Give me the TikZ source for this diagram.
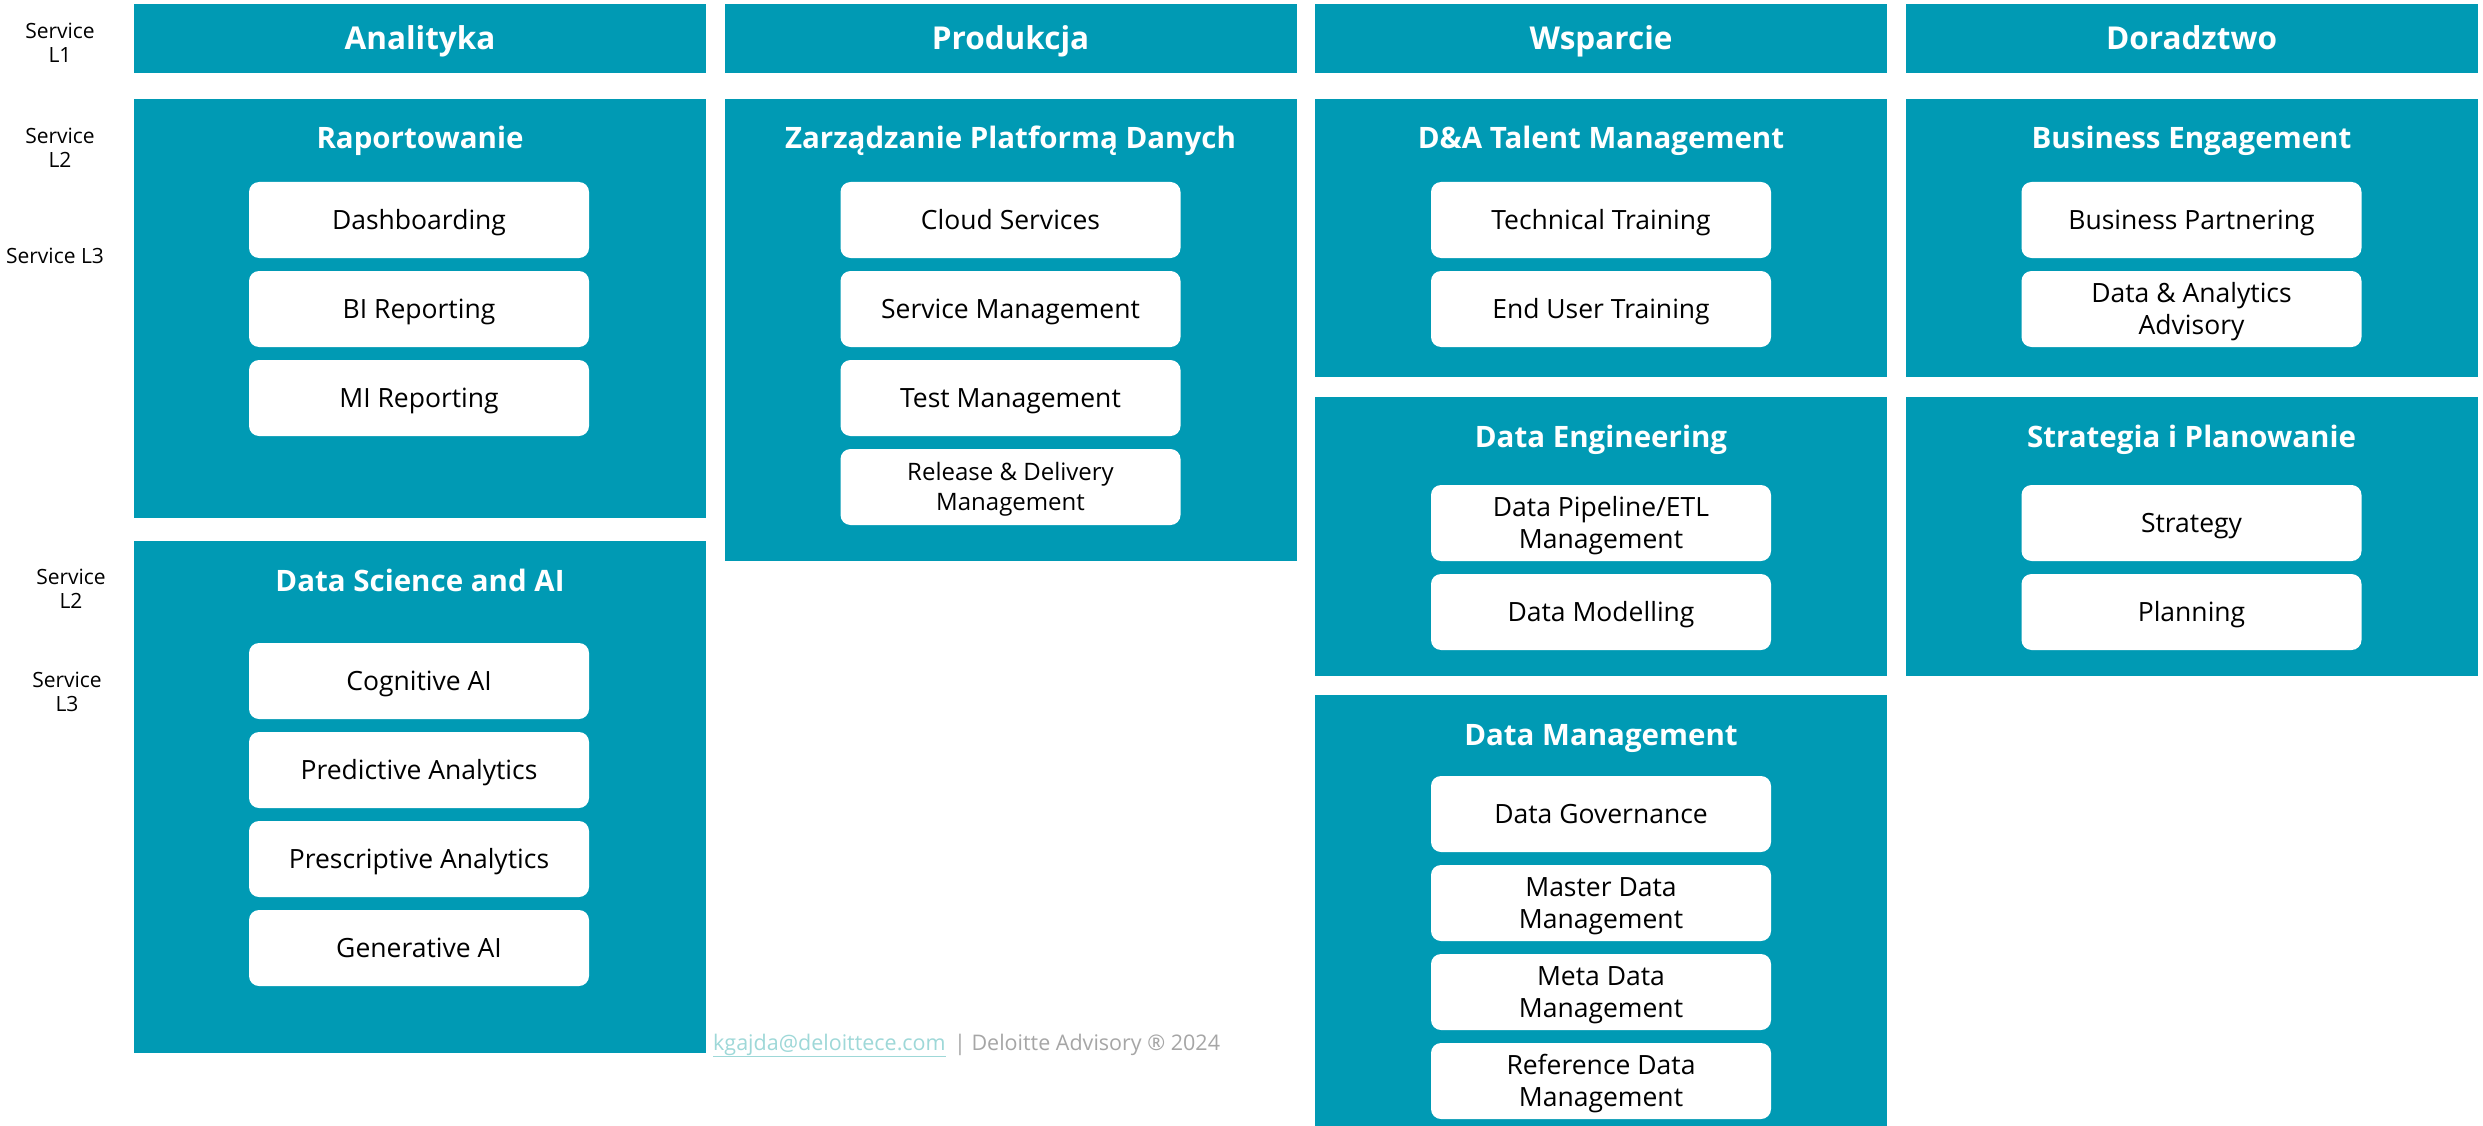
\documentclass[tikz,border=0pt]{standalone}
\usepackage{fontspec}
\setmainfont{Open Sans}
\definecolor{tealbg}{HTML}{009AB4}
\definecolor{footgray}{HTML}{A6A6A6}
\definecolor{mailteal}{HTML}{9ED8D8}
\newcommand\firststrut{\rule{0pt}{26pt}}
\newcommand\smallstrut{\rule{0pt}{23pt}}
\begin{document}
\begin{tikzpicture}[x=1pt,y=-1pt,
  panel/.style={fill=tealbg, draw=none, anchor=north west, inner sep=0pt, minimum width=572pt},
  header/.style={panel, minimum height=69pt},
  headtext/.style={anchor=base, text=white, font=\fontsize{31.5}{38}\selectfont\bfseries, inner sep=0pt},
  title/.style={anchor=base, text=white, font=\fontsize{29.5}{36}\selectfont\bfseries, inner sep=0pt},
  item/.style={fill=white, draw=none, rounded corners=10pt, minimum width=340pt, minimum height=76pt,
    inner sep=0pt, text=black, font=\fontsize{26.5}{32}\selectfont, text height=18.9pt, text depth=0pt},
  two/.style={align=center, text height=, text depth=},
  small/.style={font=\fontsize{24}{30}\selectfont},
  side/.style={text=black, font=\fontsize{21}{24}\selectfont, inner sep=0pt},
  sidetwo/.style={side, align=center},
  foot/.style={anchor=base west, inner sep=0pt, font=\fontsize{21.5}{26}\selectfont}
]
\useasboundingbox (0,0) rectangle (2483,1126);
\fill[white] (0,0) rectangle (2483,1126);

% footer (under the panels)
\node[foot, text=mailteal] (mail) at (713,1050) {\underline{kgajda@deloittece.com}};
\node[foot, text=footgray, anchor=base west] (copy) at ([xshift=8pt]mail.base east) {| Deloitte Advisory ® 2024};

% side labels
\node[sidetwo] (s1) at (60,42.5) {Service\\L1};
\node[sidetwo] (s2) at (60,148) {Service\\L2};
\node[side, text height=15pt, text depth=0pt] (s3) at (55,256) {Service L3};
\node[sidetwo] (s2b) at (71,589) {Service\\L2};
\node[sidetwo] (s3b) at (67,692) {Service\\L3};

% headers L1
\node[header] (h1) at (134,4) {};
\node[header] (h2) at (724.5,4) {};
\node[header] (h3) at (1315,4) {};
\node[header] (h4) at (1905.5,4) {};
\node[headtext] (h1t) at (420,50) {Analityka};
\node[headtext] (h2t) at (1010.5,50) {Produkcja};
\node[headtext] (h3t) at (1601,50) {Wsparcie};
\node[headtext] (h4t) at (2191.5,50) {Doradztwo};

% L2 panels
\node[panel, minimum height=419pt] (rap) at (134,99) {};
\node[panel, minimum height=512pt] (dsai) at (134,541) {};
\node[panel, minimum height=462pt] (zpd) at (724.5,99) {};
\node[panel, minimum height=278pt] (tal) at (1315,99) {};
\node[panel, minimum height=279pt] (de) at (1315,397) {};
\node[panel, minimum height=440pt] (dm) at (1315,695) {};
\node[panel, minimum height=278pt] (be) at (1905.5,99) {};
\node[panel, minimum height=279pt] (sip) at (1905.5,397) {};

\node[title] (rapt) at (420,149) {Raportowanie};
\node[title] (dsait) at (420,591) {Data Science and AI};
\node[title] (zpdt) at (1010.5,149) {Zarządzanie Platformą Danych};
\node[title] (talt) at (1601,149) {D\&A Talent Management};
\node[title] (det) at (1601,447) {Data Engineering};
\node[title] (dmt) at (1601,745) {Data Management};
\node[title] (bet) at (2191.5,149) {Business Engagement};
\node[title] (sipt) at (2191.5,447) {Strategia i Planowanie};

% L3 items
\node[item] (i11) at (419,220) {Dashboarding};
\node[item] (i12) at (419,309) {BI Reporting};
\node[item] (i13) at (419,398) {MI Reporting};

\node[item] (i21) at (419,681) {Cognitive AI};
\node[item] (i22) at (419,770) {Predictive Analytics};
\node[item] (i23) at (419,859) {Prescriptive Analytics};
\node[item] (i24) at (419,948) {Generative AI};

\node[item] (i31) at (1010.5,220) {Cloud Services};
\node[item] (i32) at (1010.5,309) {Service Management};
\node[item] (i33) at (1010.5,398) {Test Management};
\node[item, two, small] (i34) at (1010.5,487) {\smallstrut Release \& Delivery\\Management};

\node[item] (i41) at (1601,220) {Technical Training};
\node[item] (i42) at (1601,309) {End User Training};

\node[item, two] (i51) at (1601,523) {\firststrut Data Pipeline/ETL\\Management};
\node[item] (i52) at (1601,612) {Data Modelling};

\node[item] (i61) at (1601,814) {Data Governance};
\node[item, two] (i62) at (1601,903) {\firststrut Master Data\\Management};
\node[item, two] (i63) at (1601,992) {\firststrut Meta Data\\Management};
\node[item, two] (i64) at (1601,1081) {\firststrut Reference Data\\Management};

\node[item] (i71) at (2191.5,220) {Business Partnering};
\node[item, two] (i72) at (2191.5,309) {\firststrut Data \& Analytics\\Advisory};

\node[item] (i81) at (2191.5,523) {Strategy};
\node[item] (i82) at (2191.5,612) {Planning};
\end{tikzpicture}
\end{document}
